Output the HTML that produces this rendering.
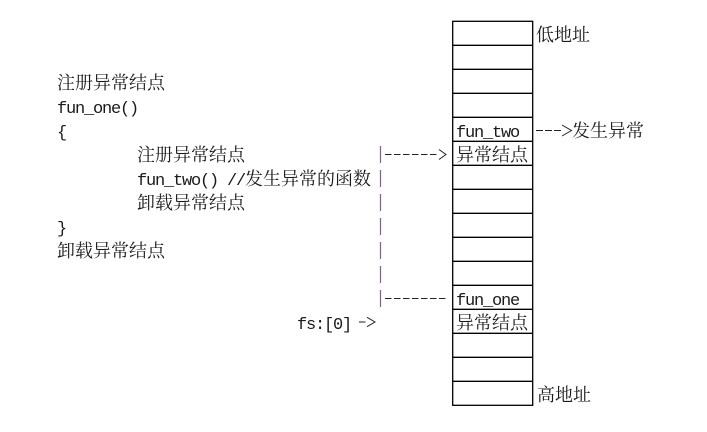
<!DOCTYPE html>
<html>
<head>
<meta charset="utf-8">
<style>
html,body{margin:0;padding:0;background:#fff;}
svg{display:block;}
.cj{font-family:"Liberation Serif","Noto Serif CJK SC","Noto Sans CJK SC",serif;font-size:18px;fill:#1a1a1a;}
.la{font-family:"Liberation Mono",monospace;font-size:17px;letter-spacing:-1.2px;fill:#1a1a1a;}
</style>
</head>
<body>
<svg width="707" height="432" viewBox="0 0 707 432" xmlns="http://www.w3.org/2000/svg">
<rect x="0" y="0" width="707" height="432" fill="#fff"/>

<!-- left code text -->
<text class="cj" x="57" y="89">注册异常结点</text>
<text class="la" x="57" y="113">fun_one()</text>
<text class="la" x="57" y="137">{</text>
<text class="cj" x="137" y="161">注册异常结点</text>
<text class="la" x="137" y="185">fun_two() //</text>
<text class="cj" x="245" y="185">发生异常的函数</text>
<text class="cj" x="137" y="209">卸载异常结点</text>
<text class="la" x="57" y="233">}</text>
<text class="cj" x="57" y="257">卸载异常结点</text>

<!-- purple bars -->
<g stroke="#845f8c" stroke-width="1.2">
<line x1="380.5" y1="146" x2="380.5" y2="163"/>
<line x1="380.5" y1="170" x2="380.5" y2="187"/>
<line x1="380.5" y1="194" x2="380.5" y2="211"/>
<line x1="380.5" y1="218" x2="380.5" y2="235"/>
<line x1="380.5" y1="242" x2="380.5" y2="259"/>
<line x1="380.5" y1="266" x2="380.5" y2="283"/>
<line x1="380.5" y1="290" x2="380.5" y2="307"/>
</g>

<!-- dashes -->
<g stroke="#222" stroke-width="1" fill="none">
<line x1="385" y1="154.5" x2="438" y2="154.5" stroke-dasharray="6.5 2.5"/>
<polyline points="439,149.5 446,154.5 439,159.5"/>
<line x1="385" y1="298.5" x2="447" y2="298.5" stroke-dasharray="6.5 2.5"/>
<line x1="536" y1="130.5" x2="562" y2="130.5" stroke-dasharray="7 2"/>
<polyline points="562,125 571.5,130.5 562,136"/>
<line x1="359" y1="322" x2="365.5" y2="322"/>
<polyline points="367,317.3 375,322 367,326.7"/>
</g>

<text class="la" x="297" y="329">fs:[0]</text>

<!-- stack table -->
<g stroke="#000" stroke-width="1.3" fill="none">
<rect x="452.7" y="21.3" width="80" height="384"/>
<line x1="452.7" y1="45.3" x2="532.7" y2="45.3"/>
<line x1="452.7" y1="69.3" x2="532.7" y2="69.3"/>
<line x1="452.7" y1="93.3" x2="532.7" y2="93.3"/>
<line x1="452.7" y1="117.3" x2="532.7" y2="117.3"/>
<line x1="452.7" y1="141.3" x2="532.7" y2="141.3"/>
<line x1="452.7" y1="165.3" x2="532.7" y2="165.3"/>
<line x1="452.7" y1="189.3" x2="532.7" y2="189.3"/>
<line x1="452.7" y1="213.3" x2="532.7" y2="213.3"/>
<line x1="452.7" y1="237.3" x2="532.7" y2="237.3"/>
<line x1="452.7" y1="261.3" x2="532.7" y2="261.3"/>
<line x1="452.7" y1="285.3" x2="532.7" y2="285.3"/>
<line x1="452.7" y1="309.3" x2="532.7" y2="309.3"/>
<line x1="452.7" y1="333.3" x2="532.7" y2="333.3"/>
<line x1="452.7" y1="357.3" x2="532.7" y2="357.3"/>
<line x1="452.7" y1="381.3" x2="532.7" y2="381.3"/>
</g>

<text class="la" x="456" y="137">fun_two</text>
<text class="cj" x="456" y="161">异常结点</text>
<text class="la" x="456" y="305">fun_one</text>
<text class="cj" x="456" y="329">异常结点</text>

<text class="cj" x="536" y="41">低地址</text>
<text class="cj" x="572" y="137">发生异常</text>
<text class="cj" x="537" y="401">高地址</text>
</svg>
</body>
</html>
